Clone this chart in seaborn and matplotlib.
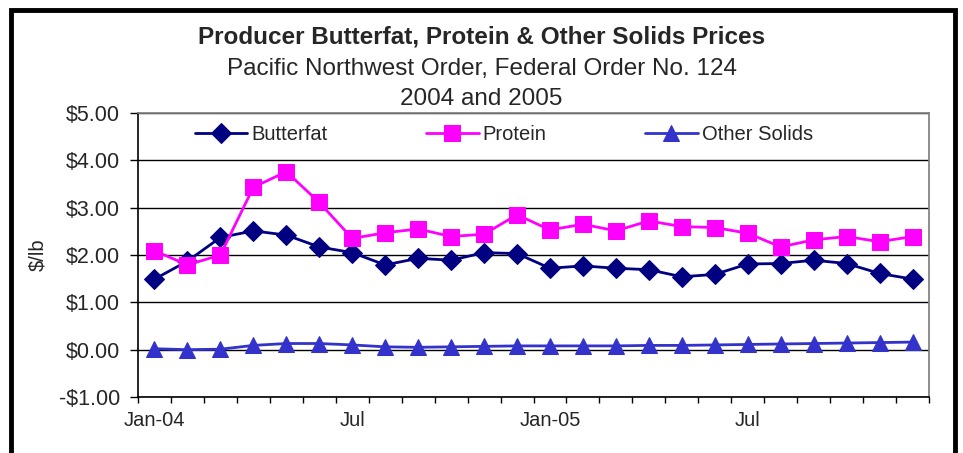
import pandas as pd
import numpy as np
import seaborn as sb
import matplotlib.pyplot as plt
from matplotlib.patches import Rectangle

# monthly prices, Jan-04 .. Dec-05 ($/lb)
months = ['Jan-04', 'Feb', 'Mar', 'Apr', 'May', 'Jun', 'Jul', 'Aug', 'Sep', 'Oct', 'Nov', 'Dec',
          'Jan-05', 'Feb', 'Mar', 'Apr', 'May', 'Jun', 'Jul', 'Aug', 'Sep', 'Oct', 'Nov', 'Dec']
butterfat = [1.49, 1.87, 2.37, 2.51, 2.42, 2.17, 2.05, 1.79, 1.93, 1.89, 2.05, 2.03,
             1.72, 1.77, 1.72, 1.69, 1.54, 1.59, 1.81, 1.82, 1.89, 1.82, 1.61, 1.49]
protein = [2.09, 1.79, 2.00, 3.43, 3.76, 3.11, 2.35, 2.47, 2.55, 2.39, 2.44, 2.85,
           2.53, 2.65, 2.51, 2.72, 2.60, 2.58, 2.46, 2.17, 2.32, 2.39, 2.28, 2.39]
other_solids = [0.02, 0.00, 0.01, 0.09, 0.13, 0.13, 0.10, 0.06, 0.05, 0.06, 0.07, 0.08,
                0.08, 0.08, 0.08, 0.09, 0.09, 0.10, 0.11, 0.12, 0.13, 0.14, 0.15, 0.16]
tick_labels = {0: 'Jan-04', 6: 'Jul', 12: 'Jan-05', 18: 'Jul'}

df = pd.DataFrame({'idx': range(len(months)), 'Butterfat': butterfat,
                   'Protein': protein, 'Other Solids': other_solids})

sb.set_theme(style='white')
plt.rcParams['font.family'] = ['Liberation Sans', 'DejaVu Sans']

fig = plt.figure(figsize=(9.63, 4.53), dpi=100)
ax = fig.add_axes([0.1433, 0.1236, 0.8214, 0.627])

styles = [('Butterfat', '#000080', 'D', 10),
          ('Protein', '#FF00FF', 's', 11),
          ('Other Solids', '#3333CC', '^', 11)]
for name, col, mk, ms in styles:
    sb.lineplot(data=df, x='idx', y=name, ax=ax, color=col, marker=mk, markersize=ms,
                markeredgecolor=col, linewidth=2, label=name)

ax.set_xlim(-0.5, len(months) - 0.5)
ax.set_ylim(-1, 5)
yt = np.arange(-1, 5.01, 1)
ax.set_yticks(yt)
ax.set_yticklabels([f'-${abs(v):.2f}' if v < 0 else f'${v:.2f}' for v in yt], fontsize=15.5)
ax.yaxis.grid(True, color='black', linewidth=1)
ax.set_axisbelow(True)

# category boundaries get tick marks, labels sit at category centres
ax.set_xticks(np.arange(-0.5, len(months), 1))
ax.set_xticklabels([])
ax.set_xticks(list(tick_labels.keys()), minor=True)
ax.set_xticklabels(list(tick_labels.values()), minor=True, fontsize=14.5)
ax.tick_params(axis='x', which='major', direction='out', length=4, width=1, color='black', bottom=True)
ax.tick_params(axis='x', which='minor', length=0, pad=10)
ax.tick_params(axis='y', direction='out', length=6, width=1, color='black', left=True, pad=7)

for side in ['top', 'right']:
    ax.spines[side].set_color('#808080')
for side in ['left', 'bottom']:
    ax.spines[side].set_color('black')
    ax.spines[side].set_linewidth(1.2)

ax.set_xlabel('')
ax.set_ylabel('$/lb', fontsize=14.5, labelpad=8)

ax.legend(loc='center left', bbox_to_anchor=(0.072, 0.9225), ncol=3, frameon=False,
          fontsize=14.5, handlelength=2.6, handletextpad=0.2, columnspacing=4.9,
          borderpad=0, borderaxespad=0)

fig.text(0.5, 0.918, 'Producer Butterfat, Protein & Other Solids Prices', ha='center', va='center',
         fontsize=17.5, fontweight='bold')
fig.text(0.5, 0.848, 'Pacific Northwest Order, Federal Order No. 124', ha='center', va='center',
         fontsize=17.5)
fig.text(0.5, 0.781, '2004 and 2005', ha='center', va='center', fontsize=17.5)

# heavy outer frame, open at the bottom like the clipped original
fig.patches.append(Rectangle((11 / 963, -0.05), (955 - 11) / 963, 443 / 453 + 0.05,
                             transform=fig.transFigure, fill=False, edgecolor='black',
                             linewidth=3.5))

fig.savefig('out.png', dpi=100)
